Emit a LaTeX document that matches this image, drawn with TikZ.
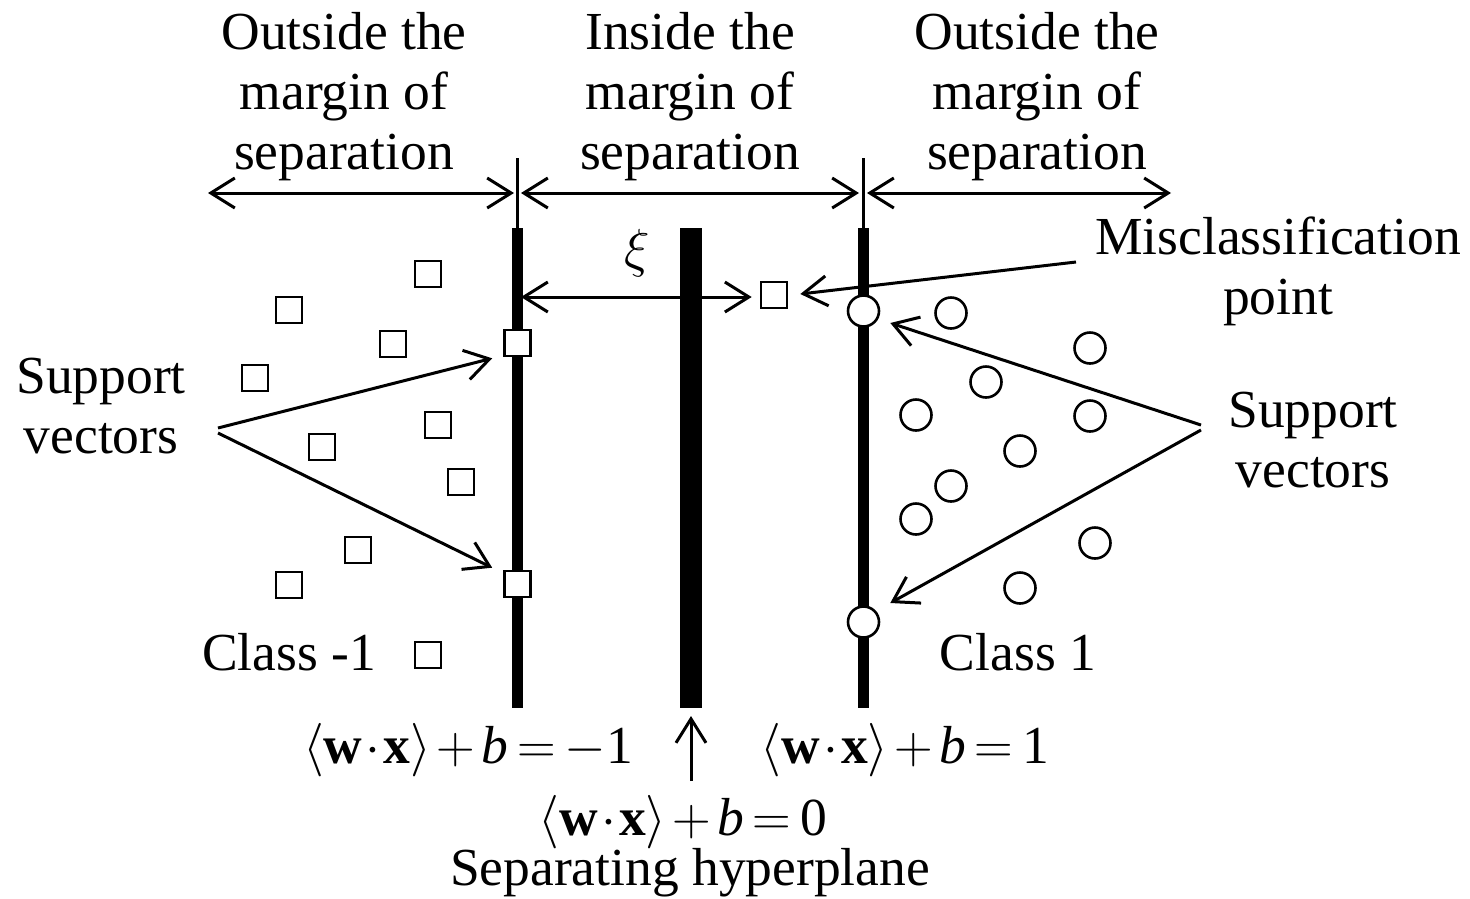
\documentclass[tikz,border=0pt]{standalone}
\usepackage{fix-cm}
\usepackage{fontspec}
\setmainfont{Liberation Serif}
\usetikzlibrary{arrows.meta,calc}
\newcommand{\wxb}[1]{$\Bigl\langle\mbox{\bfseries w}\mkern1mu{\cdot}\mkern1mu\mbox{\bfseries x}\Bigr\rangle\mkern2mu{+}\mkern2mu\mbox{\itshape b}\mkern3mu{=}\mkern3mu#1$}
\begin{document}
\begin{tikzpicture}[x=1pt,y=-1pt,
  lbl/.style={font=\fontsize{53.5}{60}\selectfont, align=center, inner sep=0pt},
  sq/.style={draw, line width=2.6pt, fill=white, minimum size=26pt, inner sep=0pt},
  circ/.style={draw, circle, line width=2.6pt, fill=white, minimum size=31pt, inner sep=0pt},
  arr/.style={line width=3pt, -{Straight Barb[length=24pt,width=30pt]}},
  darr/.style={line width=3pt, {Straight Barb[length=24pt,width=30pt]}-{Straight Barb[length=24pt,width=30pt]}},
  thin/.style={line width=3pt},
]
\useasboundingbox (0,0) rectangle (1470,898);

% margin lines and hyperplane
\draw[thin] (517.5,158) -- (517.5,230);
\draw[thin] (863.5,158) -- (863.5,230);
\draw[line width=11pt] (517.5,228) -- (517.5,708);
\draw[line width=22pt] (691,228) -- (691,708);
\draw[line width=11pt] (863.5,228) -- (863.5,708);

% headers
\node[lbl] (hL) at (344,97) {Outside the\\margin of\\separation};
\node[lbl] (hM) at (690,97) {Inside the\\margin of\\separation};
\node[lbl] (hR) at (1037,97) {Outside the\\margin of\\separation};

\coordinate (aL1) at (208,193);
\coordinate (aL2) at (514,193);
\coordinate (aM1) at (521,193);
\coordinate (aM2) at (859,193);
\coordinate (aR1) at (867,193);
\coordinate (aR2) at (1171,193);
\draw[darr] (aL1) -- (aL2);
\draw[darr] (aM1) -- (aM2);
\draw[darr] (aR1) -- (aR2);

% xi
\node[lbl] (xi) at (637,253) {$\xi$};
\node[sq] (miss) at (774,295) {};
\coordinate (xiL) at (521,297);
\draw[darr] (xiL) -- ($(miss.west)+(-8,2)$);

% misclassification
\node[lbl] (mc) at (1278,271) {Misclassification\\point};
\coordinate (mcS) at (1076,262);
\draw[arr] (mcS) -- ($(miss.east)+(12,-1)$);

% class -1 squares
\node[sq] (s1) at (428,274) {};
\node[sq] (s2) at (289,310) {};
\node[sq] (s3) at (393,344) {};
\node[sq] (s4) at (255,378) {};
\node[sq] (s5) at (438,425) {};
\node[sq] (s6) at (322,447) {};
\node[sq] (s7) at (461,482) {};
\node[sq] (s8) at (358,550) {};
\node[sq] (s9) at (289,585) {};
\node[sq] (s10) at (428,655) {};
\node[sq] (svA) at (517.5,343) {};
\node[sq] (svB) at (517.5,584) {};

% class 1 circles
\node[circ] (c1) at (951,313) {};
\node[circ] (c2) at (1090,348) {};
\node[circ] (c3) at (986,382) {};
\node[circ] (c4) at (916,415) {};
\node[circ] (c5) at (1090,416) {};
\node[circ] (c6) at (1020,451) {};
\node[circ] (c7) at (951,486) {};
\node[circ] (c8) at (916,519) {};
\node[circ] (c9) at (1095,543) {};
\node[circ] (c10) at (1020,588) {};
\node[circ] (cvA) at (863.5,311) {};
\node[circ] (cvB) at (863.5,622) {};

% support vectors labels
\node[lbl] (svl) at (101,406) {Support\\vectors};
\node[lbl] (svr) at (1313,440) {Support\\vectors};
\coordinate (svlS1) at (218,428);
\coordinate (svlS2) at (218,433);
\coordinate (svrS1) at (1201,425);
\coordinate (svrS2) at (1201,430);
\draw[arr] (svlS1) -- ($(svA.south west)+(-11,1)$);
\draw[arr] (svlS2) -- ($(svB.north west)+(-11,-2)$);
\draw[arr] (svrS1) -- ($(cvA.east)+(10,12)$);
\draw[arr] (svrS2) -- ($(cvB.east)+(10,-19)$);

% class labels
\node[lbl, anchor=base] (cl1) at (289,670) {Class -1};
\node[lbl, anchor=base] (cl2) at (1018,670) {Class 1};

% equations
\node[lbl, anchor=base] (eqL) at (468,763) {\wxb{{-}\mbox{1}}};
\node[lbl, anchor=base] (eqR) at (905,763) {\wxb{\mbox{1}}};
\node[lbl, anchor=base] (eqM) at (683,835) {\wxb{\mbox{0}}};
\node[lbl, anchor=base] (sep) at (690,885) {Separating hyperplane};
\coordinate (upS) at (691,781);
\coordinate (upE) at (691,716);
\draw[arr] (upS) -- (upE);
\end{tikzpicture}
\end{document}
